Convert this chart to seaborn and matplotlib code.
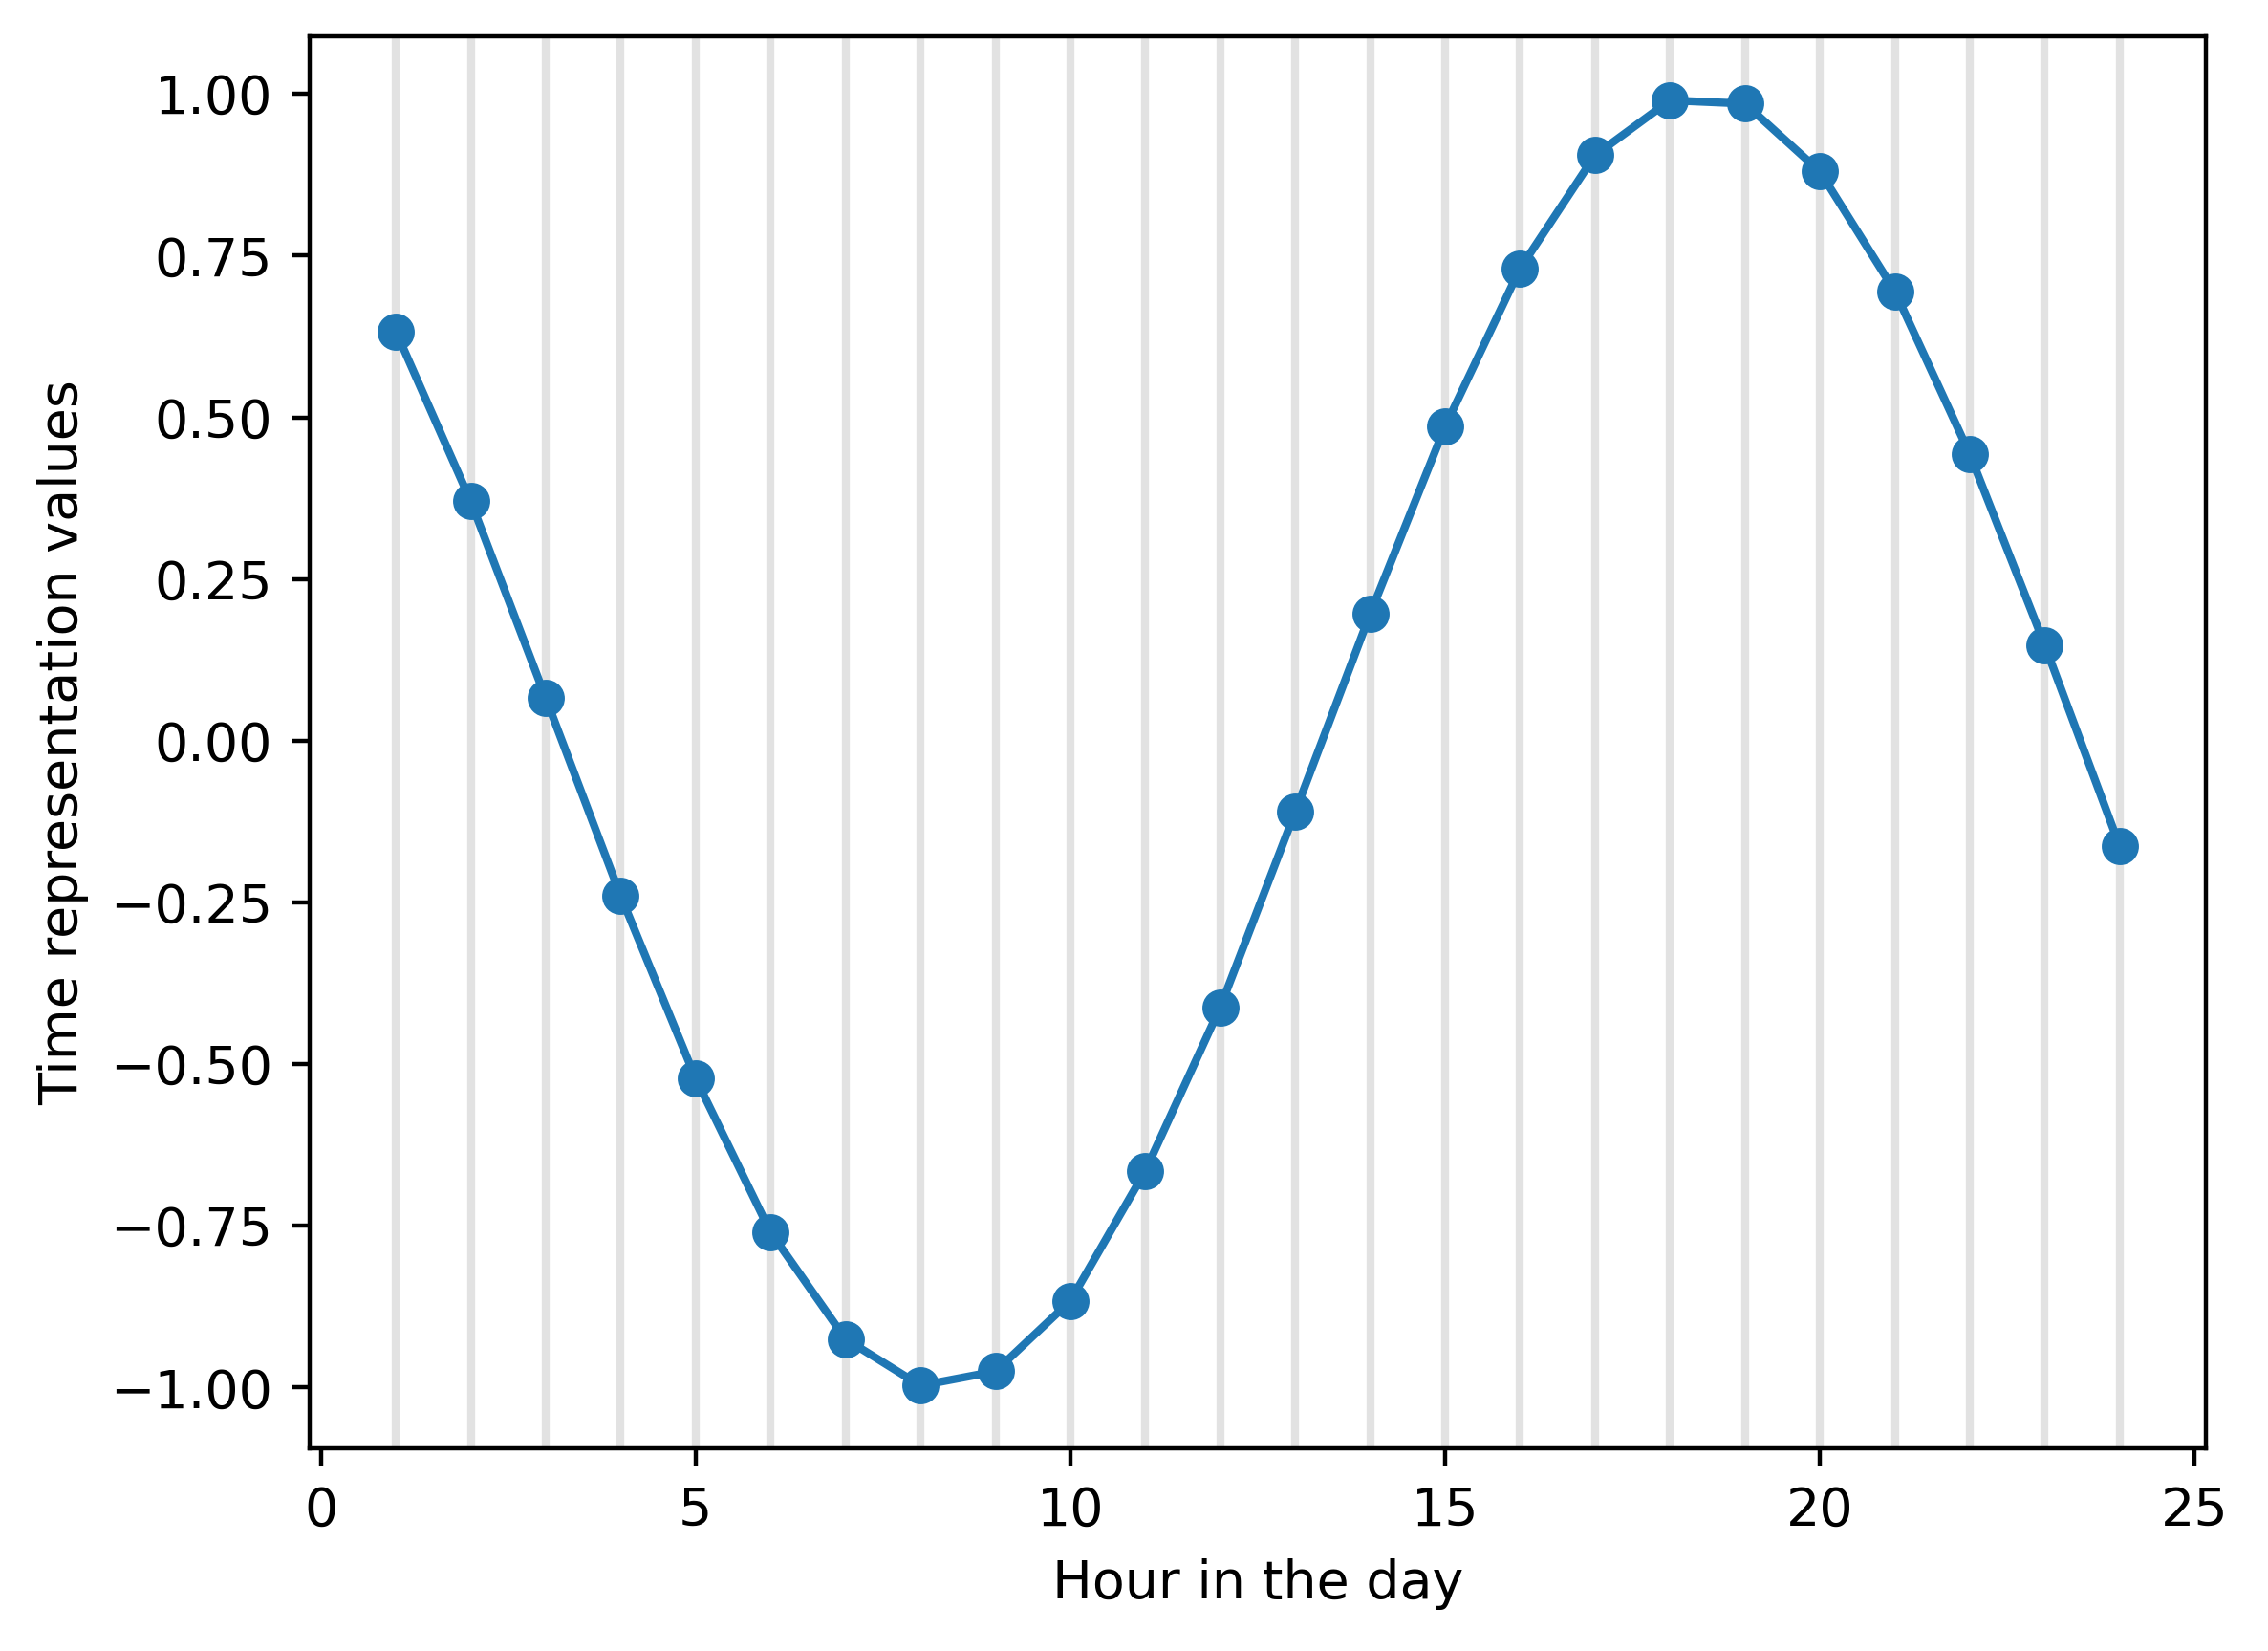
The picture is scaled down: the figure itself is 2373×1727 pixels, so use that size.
import seaborn as sns
import matplotlib.pyplot as plt
import pandas as pd

hours = list(range(1, 25))
values = [0.633, 0.37, 0.066, -0.24, -0.522, -0.76, -0.925, -0.997, -0.975, -0.866,
          -0.665, -0.412, -0.11, 0.196, 0.486, 0.73, 0.905, 0.99, 0.985, 0.88,
          0.695, 0.443, 0.148, -0.163]

df = pd.DataFrame({"hour": hours, "value": values})

sns.set_style("ticks")
plt.rcParams["font.family"] = ["DejaVu Sans"]
plt.rcParams.update({
    "font.size": 10,
    "axes.labelsize": 10,
    "xtick.labelsize": 10,
    "ytick.labelsize": 10,
    "text.color": "black",
    "axes.labelcolor": "black",
    "xtick.color": "black",
    "ytick.color": "black",
    "axes.edgecolor": "black",
    "axes.linewidth": 0.8,
    "xtick.major.size": 3.5,
    "ytick.major.size": 3.5,
    "xtick.major.width": 0.8,
    "ytick.major.width": 0.8,
})

fig = plt.figure(figsize=(2373 / 400, 1727 / 400), dpi=400)
ax = fig.add_axes([324 / 2373, 1 - 1515 / 1727, (2308 - 324) / 2373, (1515 - 38) / 1727])

for h in hours:
    ax.axvline(h, color="#e2e2e2", linewidth=1.5, zorder=0)

sns.lineplot(data=df, x="hour", y="value", marker="o", markersize=7,
             markeredgewidth=0, color="#1f77b4", linewidth=1.5, ax=ax)

ax.set_xlabel("Hour in the day")
ax.set_ylabel("Time representation values")
ax.set_xticks([0, 5, 10, 15, 20, 25])
ax.set_yticks([-1.0, -0.75, -0.5, -0.25, 0.0, 0.25, 0.5, 0.75, 1.0])
ax.set_yticklabels(["\u22121.00", "\u22120.75", "\u22120.50", "\u22120.25", "0.00",
                    "0.25", "0.50", "0.75", "1.00"])
ax.set_xlim(-0.15, 25.15)
ax.set_ylim(-1.094, 1.089)

fig.savefig("out.png", dpi=400)
